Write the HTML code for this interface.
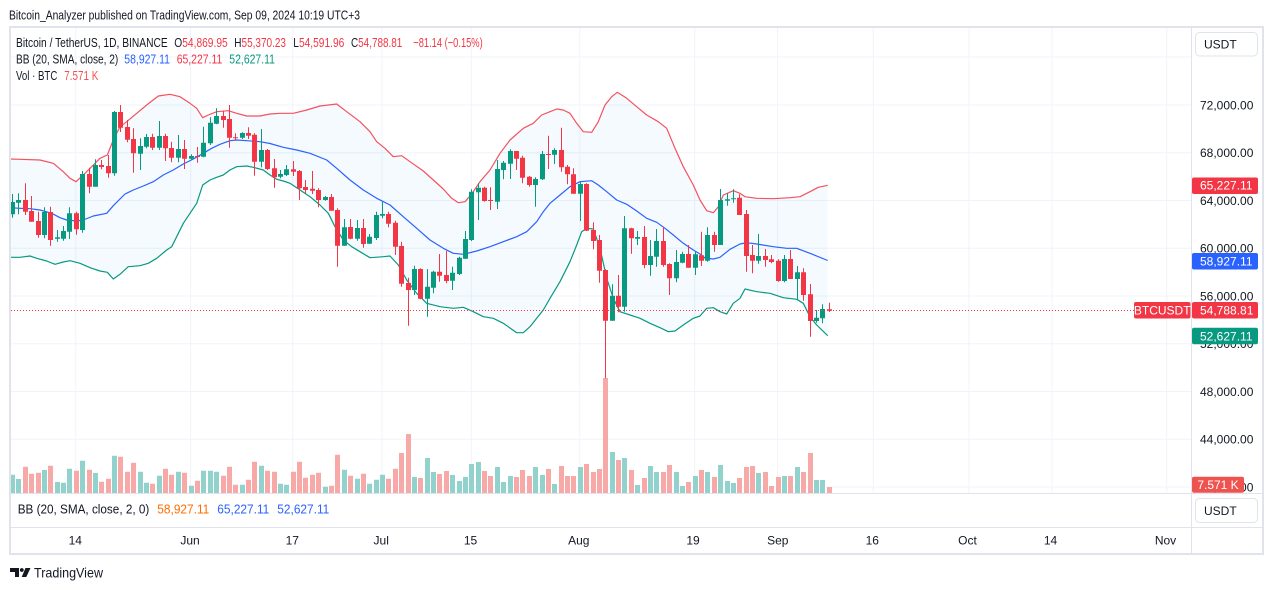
<!DOCTYPE html>
<html><head><meta charset="utf-8"><style>
html,body{margin:0;padding:0;background:#fff;width:1273px;height:590px;overflow:hidden}
svg{display:block;font-family:"Liberation Sans",sans-serif}
</style></head><body>
<svg width="1273" height="590" viewBox="0 0 1273 590" xmlns="http://www.w3.org/2000/svg">
<rect width="1273" height="590" fill="#fff"/>
<text x="9" y="19.5" font-size="13" fill="#131722" textLength="351" lengthAdjust="spacingAndGlyphs">Bitcoin_Analyzer published on TradingView.com, Sep 09, 2024 10:19 UTC+3</text>
<g stroke="#F0F3FA" stroke-width="1">
<path d="M11 57H1191M11 105H1191M11 152.7H1191M11 200.5H1191M11 248.3H1191M11 296H1191M11 343.8H1191M11 391.5H1191M11 439.3H1191M11 487H1191"/>
<path d="M75.8 28V493M190.6 28V493M292.7 28V493M382 28V493M471.3 28V493M579.8 28V493M694.7 28V493M777.6 28V493M873.3 28V493M969 28V493M1052 28V493M1166.8 28V493"/>
</g>
<path fill="#92D2CC" d="M10 474.7h5V493h-5zM16 479h5V493h-5zM42 470h5V493h-5zM55 482h5V493h-5zM61 482.7h5V493h-5zM67 468.7h5V493h-5zM80 460.7h5V493h-5zM93 473h5V493h-5zM112 455.7h5V493h-5zM138 471.7h5V493h-5zM144 482.7h5V493h-5zM157 475.7h5V493h-5zM176 471.7h5V493h-5zM189 485.7h5V493h-5zM201 470.7h5V493h-5zM208 470.7h5V493h-5zM214 471.7h5V493h-5zM240 484.7h5V493h-5zM259 465.7h5V493h-5zM278 483.7h5V493h-5zM284 484.7h5V493h-5zM323 486.7h5V493h-5zM342 469.7h5V493h-5zM355 478.7h5V493h-5zM367 483.7h5V493h-5zM374 479.7h5V493h-5zM380 474.7h5V493h-5zM412 477h5V493h-5zM425 458h5V493h-5zM431 472h5V493h-5zM450 475h5V493h-5zM457 481h5V493h-5zM463 477h5V493h-5zM469 464h5V493h-5zM476 462h5V493h-5zM495 467h5V493h-5zM501 482h5V493h-5zM508 476h5V493h-5zM533 467h5V493h-5zM540 475h5V493h-5zM552 484h5V493h-5zM578 467h5V493h-5zM610 452h5V493h-5zM622 458h5V493h-5zM635 485h5V493h-5zM648 466h5V493h-5zM654 472h5V493h-5zM674 472h5V493h-5zM680 486h5V493h-5zM693 476h5V493h-5zM705 472h5V493h-5zM718 465h5V493h-5zM725 481h5V493h-5zM731 483h5V493h-5zM756 473h5V493h-5zM782 476h5V493h-5zM795 467h5V493h-5zM814 480h5V493h-5zM820 480h5V493h-5z"/>
<path fill="#F7A9A7" d="M23 466.7h5V493h-5zM29 473.7h5V493h-5zM36 472.7h5V493h-5zM48 465.7h5V493h-5zM74 470.7h5V493h-5zM87 469.7h5V493h-5zM99 481.7h5V493h-5zM106 478.7h5V493h-5zM118 456.7h5V493h-5zM125 471.7h5V493h-5zM131 462.7h5V493h-5zM150 483.7h5V493h-5zM163 468.7h5V493h-5zM169 474.7h5V493h-5zM182 472.7h5V493h-5zM195 480.7h5V493h-5zM221 475.7h5V493h-5zM227 466.7h5V493h-5zM233 484.7h5V493h-5zM246 479.7h5V493h-5zM252 461.7h5V493h-5zM265 470.7h5V493h-5zM272 471.7h5V493h-5zM291 471.7h5V493h-5zM297 461.7h5V493h-5zM303 477.7h5V493h-5zM310 474.7h5V493h-5zM316 472.7h5V493h-5zM329 485.7h5V493h-5zM335 454.7h5V493h-5zM348 475.7h5V493h-5zM361 473.7h5V493h-5zM386 478.7h5V493h-5zM393 468.7h5V493h-5zM399 453h5V493h-5zM406 434h5V493h-5zM418 478h5V493h-5zM437 474h5V493h-5zM444 471h5V493h-5zM482 471h5V493h-5zM488 476h5V493h-5zM514 477h5V493h-5zM520 470h5V493h-5zM527 476h5V493h-5zM546 469h5V493h-5zM559 466h5V493h-5zM565 476h5V493h-5zM571 476h5V493h-5zM584 464h5V493h-5zM591 472h5V493h-5zM597 469h5V493h-5zM603 378h5V493h-5zM616 460h5V493h-5zM629 470h5V493h-5zM642 478h5V493h-5zM661 472h5V493h-5zM667 465h5V493h-5zM686 482h5V493h-5zM699 470h5V493h-5zM712 477h5V493h-5zM737 478h5V493h-5zM744 467h5V493h-5zM750 466h5V493h-5zM763 472h5V493h-5zM769 486h5V493h-5zM776 477h5V493h-5zM788 476h5V493h-5zM801 472h5V493h-5zM808 453h5V493h-5zM827 487h5V493h-5z"/>
<polygon fill="rgba(33,150,243,0.05)" points="10,159 20,159.3 40,160 53.3,163.3 63.3,171.7 70,178.3 76,181.7 83.3,175 91.7,166.7 100,158.3 107.3,155 113.3,140 120,126.7 126.7,121.7 136.7,113.3 146.7,105 158.3,96 170,94.3 180,96.7 190,103.3 196.7,108.3 202.7,117.7 208.3,115 216.7,111.7 228.3,110.7 236.7,113.3 246.7,116 260,116 270,114 280,113.3 293.3,113.3 306.7,110 320,106 336.7,104 346.7,111.7 360,121.7 370,131.7 376.7,141.7 385,148.3 393.3,156.7 401.7,155.7 410,161.7 423.3,171 433.3,180 443.3,189 451.7,198.3 458.3,202.7 465,201.7 471.7,194 480,181.7 490,170 500,153.3 510,140 523.3,128.3 533.3,123.3 541.7,115 550,111.7 556.7,109 563.3,110 570,113.3 576.7,123.3 583.3,131.7 591.7,132.3 598.3,121.7 605,105 611.7,96.7 617.3,92.3 626.7,98.3 636.7,106.7 646.7,115 658.3,121.7 666.7,128.3 675,148.3 683.3,166.7 693.3,185 700,200 706.7,210.7 713.3,212.7 718.3,206.7 723.3,195 733.3,190.7 740,193.3 745,196.7 756.7,198.3 773.3,198.7 790,197.7 800,196.7 810,191.7 818.3,187.3 827.7,185.3 827.7,335.7 816.7,325 810,316.7 803.3,303.3 796.7,299.3 783.3,297.7 770,293.3 756.7,291.7 745,289 740,298.3 733.3,303.3 726.7,314 720,311.7 713.3,307.7 706.7,308.3 700,316 693.3,318.3 683.3,325 675,331 668.3,331.7 660,327.7 650,323.3 640,318.3 630,315 620,311.7 613.3,298.3 606.7,278.3 600,248.3 593.3,229 586.7,228.3 581.7,231.7 576.7,245 570,261.7 560,281.7 550,298.3 543.3,310 536.7,318.3 530,326.7 523.3,332.7 516.7,332.7 503.3,323.3 493.3,318.3 483.3,316.7 473.3,311.7 463.3,307.3 453.3,308.3 440,306.7 426.7,303.3 416.7,293.3 406.7,280 398.3,265 390,256 383.3,256.7 370,257.7 360,251.7 351.7,246.7 343.3,240 335,226.7 328.3,213.3 320,205 310,196.7 300,190 290,183.3 283.3,181 276.7,179.3 270,175 263.3,170 253.3,167.3 246.7,166 236.7,166.7 230,170 223.3,175 216.7,177.3 210,180 202.7,185 196.7,203.3 190,213.3 183.3,223.3 176.7,236.7 171.7,246.7 166.7,250 156.7,258.3 148.3,263.3 140,265.7 128.3,266.7 120,274.3 113.3,279 107.3,272.3 100,271 90,267.7 80,263.3 70,260.7 63.3,262 55,264.3 46.7,261 36.7,258.3 30,256 20,257.3 10,257.3"/>
<g fill="none" stroke-width="1.2" stroke-linejoin="round">
<polyline stroke="#F5515E" points="10,159 20,159.3 40,160 53.3,163.3 63.3,171.7 70,178.3 76,181.7 83.3,175 91.7,166.7 100,158.3 107.3,155 113.3,140 120,126.7 126.7,121.7 136.7,113.3 146.7,105 158.3,96 170,94.3 180,96.7 190,103.3 196.7,108.3 202.7,117.7 208.3,115 216.7,111.7 228.3,110.7 236.7,113.3 246.7,116 260,116 270,114 280,113.3 293.3,113.3 306.7,110 320,106 336.7,104 346.7,111.7 360,121.7 370,131.7 376.7,141.7 385,148.3 393.3,156.7 401.7,155.7 410,161.7 423.3,171 433.3,180 443.3,189 451.7,198.3 458.3,202.7 465,201.7 471.7,194 480,181.7 490,170 500,153.3 510,140 523.3,128.3 533.3,123.3 541.7,115 550,111.7 556.7,109 563.3,110 570,113.3 576.7,123.3 583.3,131.7 591.7,132.3 598.3,121.7 605,105 611.7,96.7 617.3,92.3 626.7,98.3 636.7,106.7 646.7,115 658.3,121.7 666.7,128.3 675,148.3 683.3,166.7 693.3,185 700,200 706.7,210.7 713.3,212.7 718.3,206.7 723.3,195 733.3,190.7 740,193.3 745,196.7 756.7,198.3 773.3,198.7 790,197.7 800,196.7 810,191.7 818.3,187.3 827.7,185.3"/>
<polyline stroke="#2962FF" points="10,207.7 20,208.3 30,208.7 40,210 51.7,213.3 60,217.7 66.7,220 76.7,221 83.3,220 93.3,216 106.7,213.3 113.3,205.7 125,194 133.3,190 143.3,186 153.3,181.7 163.3,175 173.3,170 183.3,164 193.3,159 203.3,153.3 211.7,148.3 220,144.3 230,140.7 236.7,140 246.7,140.7 260,141.7 270,143.5 283.3,147.3 296.7,150 310,153.3 326.7,160 336.7,168.3 350,180 363.3,190 376.7,198.3 390,205 403.3,216.7 416.7,228.3 430,240 443.3,248.3 453.3,253.3 463.3,254.3 476.7,251 490,246.7 503.3,241.7 516.7,236.7 526.7,231.7 536.7,221.7 543.3,211.7 550,203.3 560,195 570,186.7 580,181.7 591.7,180.7 598.3,185 606.7,191.7 616.7,200 626.7,204.3 636.7,211 646.7,218.3 656.7,222.3 665,228.3 673.3,235 683.3,243.3 693.3,250 700,254 705,258 713.3,259 720,257.3 730,249.3 740,244 746.7,242.7 756.7,244 773.3,246.7 786.7,248.3 796.7,248.3 810,253.3 827.7,260.5"/>
<polyline stroke="#089981" points="10,257.3 20,257.3 30,256 36.7,258.3 46.7,261 55,264.3 63.3,262 70,260.7 80,263.3 90,267.7 100,271 107.3,272.3 113.3,279 120,274.3 128.3,266.7 140,265.7 148.3,263.3 156.7,258.3 166.7,250 171.7,246.7 176.7,236.7 183.3,223.3 190,213.3 196.7,203.3 202.7,185 210,180 216.7,177.3 223.3,175 230,170 236.7,166.7 246.7,166 253.3,167.3 263.3,170 270,175 276.7,179.3 283.3,181 290,183.3 300,190 310,196.7 320,205 328.3,213.3 335,226.7 343.3,240 351.7,246.7 360,251.7 370,257.7 383.3,256.7 390,256 398.3,265 406.7,280 416.7,293.3 426.7,303.3 440,306.7 453.3,308.3 463.3,307.3 473.3,311.7 483.3,316.7 493.3,318.3 503.3,323.3 516.7,332.7 523.3,332.7 530,326.7 536.7,318.3 543.3,310 550,298.3 560,281.7 570,261.7 576.7,245 581.7,231.7 586.7,228.3 593.3,229 600,248.3 606.7,278.3 613.3,298.3 620,311.7 630,315 640,318.3 650,323.3 660,327.7 668.3,331.7 675,331 683.3,325 693.3,318.3 700,316 706.7,308.3 713.3,307.7 720,311.7 726.7,314 733.3,303.3 740,298.3 745,289 756.7,291.7 770,293.3 783.3,297.7 796.7,299.3 803.3,303.3 810,316.7 816.7,325 827.7,335.7"/>
</g>
<path stroke="#089981" stroke-width="1" fill="none" d="M12.5 194V217.7M18.5 193.3V214.3M44.5 207.3V238.3M57.5 230V241.7M63.5 226V240.7M69.5 207.3V239M82.5 171V232.7M95.5 159.3V186.7M114.5 111V175.7M140.5 138.3V170M146.5 134V148.3M159.5 121V150M178.5 135V162.3M191.5 154.3V160M203.5 126.7V157.3M210.5 117.3V145M216.5 108.3V124.3M242.5 132.3V139M261.5 129V167.3M280.5 170V178.3M286.5 165V176M325.5 196V200.7M344.5 219V245.7M357.5 220V240.7M369.5 234V244M376.5 211.7V240M382.5 201.7V218.3M414.5 265.7V295M427.5 269V316.7M433.5 270.7V293.3M452.5 266.7V290M459.5 256.7V275M465.5 231V259M471.5 189.3V241M478.5 183.3V220M497.5 160V209M503.5 161V179.3M510.5 149.3V179M535.5 177.3V206.7M542.5 151V180M554.5 148.3V164M580.5 181.7V221M612.5 284.3V320.7M624.5 216V311.7M637.5 231V245M650.5 240V275.7M656.5 229V266.7M676.5 250V282.3M682.5 251.7V263.3M695.5 251.7V275M707.5 227.3V261.7M720.5 189V245M727.5 193.3V205.7M733.5 189.3V202.7M758.5 234V263.7M784.5 255V282.3M797.5 266V300M816.5 310V322.7M822.5 304.3V323.3"/>
<path fill="#089981" d="M10 202h5V214.3h-5zM16 200h5V202.7h-5zM42 212h5V235h-5zM55 237.3h5V238.7h-5zM61 231h5V238.7h-5zM67 213.3h5V231.7h-5zM80 174h5V230h-5zM93 165h5V186.7h-5zM112 112h5V173.3h-5zM138 146h5V153.7h-5zM144 137h5V146.7h-5zM157 136h5V147.7h-5zM176 149h5V157.7h-5zM189 156h5V158.7h-5zM201 142.7h5V156.7h-5zM208 122.7h5V143.3h-5zM214 116h5V123.7h-5zM240 133h5V137.7h-5zM259 150h5V161.7h-5zM278 174h5V176.7h-5zM284 169.3h5V175h-5zM323 197h5V200h-5zM342 227.3h5V245.7h-5zM355 228h5V238.7h-5zM367 236.7h5V243.7h-5zM374 215h5V238h-5zM380 214h5V215.7h-5zM412 269h5V290h-5zM425 286.7h5V298.7h-5zM431 271.7h5V287.7h-5zM450 272.7h5V280.7h-5zM457 257.7h5V274h-5zM463 239h5V258.7h-5zM469 191.7h5V240h-5zM476 187.7h5V192.3h-5zM495 169h5V201.7h-5zM501 162.7h5V170h-5zM508 151h5V163.7h-5zM533 179h5V185h-5zM540 154h5V179.3h-5zM552 150h5V154.7h-5zM578 184h5V193.7h-5zM610 295.7h5V320.7h-5zM622 228.3h5V306.7h-5zM635 237h5V238.7h-5zM648 256h5V265h-5zM654 241h5V256.7h-5zM674 262h5V278.3h-5zM680 254h5V262.7h-5zM693 254.3h5V267.7h-5zM705 235h5V260.7h-5zM718 200h5V245h-5zM725 199.3h5V200.7h-5zM731 198.3h5V199.3h-5zM756 256h5V260.7h-5zM782 259h5V281h-5zM795 272.3h5V279h-5zM814 317.7h5V321h-5zM820 309h5V318.3h-5z"/>
<path stroke="#F23645" stroke-width="1" fill="none" d="M25.5 183.3V215M31.5 196V221.7M38.5 211.7V237.7M50.5 206.7V245.7M76.5 211.7V234.7M89.5 167.7V193.3M101.5 160V169.3M108.5 155V177.7M120.5 105V132M127.5 120V142.3M133.5 128.3V172.7M152.5 133.7V150M165.5 133.7V161M171.5 141.7V162.3M184.5 140V169M197.5 147V162.7M223.5 110.7V127.7M229.5 105V147.7M235.5 133.3V140.7M248.5 127.3V139M254.5 133.3V175.7M267.5 149V170M274.5 159V187.7M293.5 161V176M299.5 170V200M305.5 180V193.3M312.5 171V194M318.5 188.3V207.3M331.5 194V210.7M337.5 208.3V266.7M350.5 219V239.3M363.5 219V247.7M388.5 211.7V227.3M395.5 220.7V255M401.5 241.7V286.7M408.5 277.7V325.7M420.5 268.3V299.3M439.5 254V281.7M446.5 251V283.3M484.5 186.7V201.7M490.5 187.3V210M516.5 151V170M522.5 155.7V183.3M529.5 176V186.7M548.5 135.7V169M561.5 127.7V171.7M567.5 165V184.3M573.5 168.3V194M586.5 183.3V231M593.5 222.3V249.3M599.5 235V282.7M605.5 269.3V378.3M618.5 275V312.3M631.5 227.7V253.7M644.5 226V268.3M663.5 226.7V266.7M669.5 263.3V295M688.5 245V267.7M701.5 231.7V266M714.5 231.7V251.7M739.5 194.3V215M746.5 210V271.7M752.5 245V273.3M765.5 249V266.7M771.5 255V263.3M778.5 259.3V281.7M790.5 250V279M803.5 268.3V300.7M810.5 284V336.7M829.5 302.7V312"/>
<path fill="#F23645" d="M23 200h5V211.7h-5zM29 211h5V221.7h-5zM36 221h5V235h-5zM48 212h5V240h-5zM74 213.3h5V229.3h-5zM87 174h5V186.7h-5zM99 165h5V167h-5zM106 166h5V173.3h-5zM118 112h5V127.7h-5zM125 127h5V139.7h-5zM131 139h5V153.3h-5zM150 137h5V147.7h-5zM163 136h5V148.3h-5zM169 148h5V157.7h-5zM182 149h5V158.7h-5zM195 156h5V157h-5zM221 116h5V120h-5zM227 119h5V137.7h-5zM233 137.3h5V138.3h-5zM246 133h5V135.7h-5zM252 134.7h5V161.7h-5zM265 150h5V169h-5zM272 168.3h5V177.3h-5zM291 169.3h5V171.7h-5zM297 171h5V188.3h-5zM303 187h5V190h-5zM310 188.7h5V190.7h-5zM316 190h5V200h-5zM329 197h5V210.7h-5zM335 210h5V245.7h-5zM348 227h5V238.7h-5zM361 228h5V244h-5zM386 214h5V223.7h-5zM393 222.7h5V246.7h-5zM399 246h5V283.7h-5zM406 283h5V290h-5zM418 269h5V298.7h-5zM437 271.7h5V275.7h-5zM444 275h5V281h-5zM482 187.7h5V201h-5zM488 200h5V201h-5zM514 151h5V158.7h-5zM520 157.7h5V177.7h-5zM527 176.7h5V185h-5zM546 154h5V155h-5zM559 150h5V167.3h-5zM565 166.7h5V174.3h-5zM571 174.3h5V193.7h-5zM584 184h5V230.7h-5zM591 230h5V241h-5zM597 240h5V270.7h-5zM603 270h5V320.7h-5zM616 295.7h5V306.7h-5zM629 228.3h5V238.3h-5zM642 237h5V265h-5zM661 241h5V265h-5zM667 264h5V278.3h-5zM686 254h5V267.7h-5zM699 255.3h5V260.7h-5zM712 235h5V245h-5zM737 197.7h5V215h-5zM744 214h5V256h-5zM750 255h5V260.7h-5zM763 256h5V260h-5zM769 259.3h5V262h-5zM776 260.7h5V281h-5zM788 259h5V279h-5zM801 272.3h5V295h-5zM808 294.3h5V321h-5zM827 309.3h5V310.7h-5z"/>
<line x1="11" y1="310.5" x2="1134" y2="310.5" stroke="#F23645" stroke-width="1" stroke-dasharray="1 2"/>
<g font-size="13">
<text x="16" y="46.8" fill="#131722" textLength="151.7" lengthAdjust="spacingAndGlyphs">Bitcoin / TetherUS, 1D, BINANCE</text>
<text x="174.3" y="46.8" textLength="53.4" lengthAdjust="spacingAndGlyphs"><tspan fill="#131722">O</tspan><tspan fill="#F23645">54,869.95</tspan></text>
<text x="234.3" y="46.8" textLength="51.7" lengthAdjust="spacingAndGlyphs"><tspan fill="#131722">H</tspan><tspan fill="#F23645">55,370.23</tspan></text>
<text x="293.3" y="46.8" textLength="51" lengthAdjust="spacingAndGlyphs"><tspan fill="#131722">L</tspan><tspan fill="#F23645">54,591.96</tspan></text>
<text x="351" y="46.8" textLength="51.3" lengthAdjust="spacingAndGlyphs"><tspan fill="#131722">C</tspan><tspan fill="#F23645">54,788.81</tspan></text>
<text x="413.3" y="46.8" fill="#F23645" textLength="69.4" lengthAdjust="spacingAndGlyphs">−81.14 (−0.15%)</text>
<text x="16" y="63.5" fill="#131722" textLength="102.3" lengthAdjust="spacingAndGlyphs">BB (20, SMA, close, 2)</text>
<text x="124.3" y="63.5" fill="#2962FF" textLength="45.7" lengthAdjust="spacingAndGlyphs">58,927.11</text>
<text x="176.7" y="63.5" fill="#F23645" textLength="45.6" lengthAdjust="spacingAndGlyphs">65,227.11</text>
<text x="229.3" y="63.5" fill="#089981" textLength="45.7" lengthAdjust="spacingAndGlyphs">52,627.11</text>
<text x="16" y="80.2" fill="#131722" textLength="41.3" lengthAdjust="spacingAndGlyphs">Vol · BTC</text>
<text x="64.3" y="80.2" fill="#EF5350" textLength="34" lengthAdjust="spacingAndGlyphs">7.571 K</text>
<text x="17.7" y="513.5" fill="#131722" textLength="131.6" lengthAdjust="spacingAndGlyphs">BB (20, SMA, close, 2, 0)</text>
<text x="157.3" y="513.5" fill="#FF6D00" textLength="52" lengthAdjust="spacingAndGlyphs">58,927.11</text>
<text x="217.3" y="513.5" fill="#2962FF" textLength="52" lengthAdjust="spacingAndGlyphs">65,227.11</text>
<text x="277.3" y="513.5" fill="#2962FF" textLength="52" lengthAdjust="spacingAndGlyphs">52,627.11</text>
</g>
<g stroke="#E0E3EB" fill="none">
<line x1="1191.5" y1="27" x2="1191.5" y2="554" stroke-width="1"/>
<line x1="10" y1="493.5" x2="1263" y2="493.5" stroke-width="1"/>
<line x1="10" y1="527.5" x2="1263" y2="527.5" stroke-width="1"/>
<rect x="10" y="27" width="1253" height="527" stroke-width="2"/>
</g>
<g font-size="12" fill="#131722">
<text x="1200" y="109.3">72,000.00</text>
<text x="1200" y="157">68,000.00</text>
<text x="1200" y="204.8">64,000.00</text>
<text x="1200" y="252.6">60,000.00</text>
<text x="1200" y="300.3">56,000.00</text>
<text x="1200" y="348.1">52,000.00</text>
<text x="1200" y="395.8">48,000.00</text>
<text x="1200" y="443.6">44,000.00</text>
<text x="1200" y="491.3">40,000.00</text>
</g>
<rect x="1195.5" y="32.5" width="62" height="23.5" rx="4" fill="#fff" stroke="#E0E3EB"/>
<text x="1204" y="48.5" font-size="12" fill="#131722">USDT</text>
<rect x="1195.5" y="498.5" width="62" height="24" rx="4" fill="#fff" stroke="#E0E3EB"/>
<text x="1204" y="515" font-size="12" fill="#131722">USDT</text>
<g font-size="12" fill="#fff">
<rect x="1192" y="177.5" width="66" height="16.5" rx="2" fill="#F23645"/>
<text x="1200" y="189.7" fill="#fff">65,227.11</text>
<rect x="1192" y="253" width="66" height="16.5" rx="2" fill="#2962FF"/>
<text x="1200" y="265.3" fill="#fff">58,927.11</text>
<rect x="1134" y="302" width="56.5" height="16.5" rx="2" fill="#F23645"/>
<text x="1162.2" y="314.5" fill="#fff" text-anchor="middle">BTCUSDT</text>
<rect x="1192" y="302" width="66" height="16.5" rx="2" fill="#F23645"/>
<text x="1200" y="314.5" fill="#fff">54,788.81</text>
<rect x="1192" y="327.7" width="66" height="16.5" rx="2" fill="#089981"/>
<text x="1200" y="340.3" fill="#fff">52,627.11</text>
<rect x="1192" y="476.7" width="52" height="16" rx="2" fill="#EF5350"/>
<text x="1218" y="489" fill="#fff" text-anchor="middle">7.571 K</text>
</g>
<g font-size="12" fill="#131722" text-anchor="middle">
<text x="75.3" y="544.3">14</text>
<text x="190" y="544.3">Jun</text>
<text x="292.3" y="544.3">17</text>
<text x="381.2" y="544.3">Jul</text>
<text x="470.5" y="544.3">15</text>
<text x="578.8" y="544.3">Aug</text>
<text x="693" y="544.3">19</text>
<text x="777.8" y="544.3">Sep</text>
<text x="872.3" y="544.3">16</text>
<text x="967.5" y="544.3">Oct</text>
<text x="1050.5" y="544.3">14</text>
<text x="1165.5" y="544.3">Nov</text>
</g>
<g fill="#131722">
<path d="M10 568h9v9h-4v-5h-5z"/>
<circle cx="21.8" cy="570" r="1.9"/>
<path d="M25.5 568h5l-4.2 9h-4.6z"/>
</g>
<text x="34" y="577.5" font-size="14" fill="#131722" textLength="69" lengthAdjust="spacingAndGlyphs">TradingView</text>
</svg>
</body></html>
